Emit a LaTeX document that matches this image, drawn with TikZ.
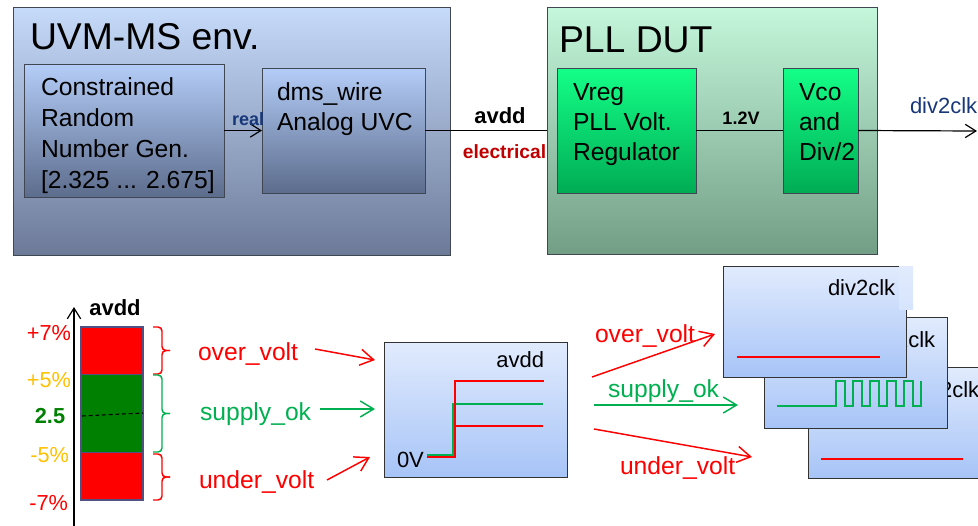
\documentclass[tikz,border=0pt]{standalone}
\usepackage{fontspec}
\setmainfont{Liberation Sans}
\usetikzlibrary{arrows.meta}

\definecolor{envtop}{RGB}{198,218,250}
\definecolor{envbot}{RGB}{108,122,152}
\definecolor{gentop}{RGB}{180,205,248}
\definecolor{genbot}{RGB}{92,108,140}
\definecolor{plltop}{RGB}{196,247,219}
\definecolor{pllbot}{RGB}{114,158,133}
\definecolor{grntop}{RGB}{20,255,136}
\definecolor{grnbot}{RGB}{0,172,84}
\definecolor{wavtop}{RGB}{225,235,253}
\definecolor{wavbot}{RGB}{167,196,247}
\definecolor{boxedge}{RGB}{64,70,82}
\definecolor{navy}{RGB}{23,55,120}
\definecolor{darkred}{RGB}{192,0,0}
\definecolor{alarm}{RGB}{255,0,0}
\definecolor{okgreen}{RGB}{0,176,80}
\definecolor{amber}{RGB}{255,192,0}
\definecolor{bargreen}{RGB}{0,128,0}
\definecolor{baredge}{RGB}{80,80,130}
\definecolor{bgtop}{RGB}{225,235,253}
\definecolor{bgbot}{RGB}{214,228,252}

\newcommand\fs[2]{\fontsize{#1}{#2}\selectfont}

\tikzset{
  boxline/.style={draw=boxedge, line width=0.75pt, inner sep=0pt, outer sep=0pt, anchor=north west},
  envbox/.style={boxline, top color=envtop, bottom color=envbot},
  genbox/.style={boxline, top color=gentop, bottom color=genbot},
  pllbox/.style={boxline, top color=plltop, bottom color=pllbot},
  grnbox/.style={boxline, top color=grntop, bottom color=grnbot},
  wavebox/.style={boxline, draw=black!80, top color=wavtop, bottom color=wavbot},
  lbl/.style={inner sep=0pt, outer sep=0pt},
  title/.style={lbl, anchor=base west, font=\fs{28}{30}},
  body/.style={lbl, anchor=base west, font=\fs{18.5}{22}},
  sig/.style={lbl, font=\fs{18.5}{22}},
  wlbl/.style={lbl, font=\fs{16.5}{18}},
  conn/.style={line width=0.9pt},
  barb/.style={conn, -{Straight Barb[length=8pt,width=10pt]}},
  sigarrow/.style={line width=1.1pt, -{Straight Barb[length=10pt,width=12pt]}},
  trace/.style={line width=1.1pt},
  bracket/.style={line width=1.1pt, rounded corners=3pt},
}

% right-hand curly bracket: top y, bottom y, colour
\newcommand\rangebrace[3]{%
  \pgfmathsetmacro\bmid{(#1+#2)/2}%
  \draw[bracket, #3] (153,#1) -- (162,#1) -- (162,\bmid) -- (170,\bmid);
  \draw[bracket, #3] (170,\bmid) -- (162,\bmid) -- (162,#2) -- (153,#2);
}

\begin{document}
\begin{tikzpicture}[x=0.75pt,y=-0.75pt]
\useasboundingbox (0,0) rectangle (978,525);

% ---------- UVM-MS environment ----------
\node[envbox, minimum width=437*0.75pt, minimum height=248*0.75pt] (env) at (13,7) {};
\node[title] (envtitle) at (30,49) {UVM-MS env.};
\node[genbox, minimum width=200*0.75pt, minimum height=133*0.75pt] (gen) at (24,64) {};
\node[body] (gentext) at (41,95) {\parbox[t]{5cm}{\fs{18.5}{23.25}Constrained\\Random\\Number Gen.\\{[}2.325 ... 2.675{]}}};
\node[genbox, minimum width=163*0.75pt, minimum height=125*0.75pt] (dms) at (262,68) {};
\node[body] (dmstext) at (277,100) {\parbox[t]{5cm}{\fs{18.5}{22.5}dms\_wire\\Analog UVC}};

\draw[barb] (gen.east) -- (dms.west);
\node[lbl, anchor=base west, font=\bfseries\fs{13.5}{15}, text=navy] (reallbl) at (232,125) {real};

% ---------- PLL DUT ----------
\node[pllbox, minimum width=330*0.75pt, minimum height=247*0.75pt] (pll) at (547,7) {};
\node[title] (plltitle) at (559,52) {PLL DUT};
\node[grnbox, minimum width=139*0.75pt, minimum height=125*0.75pt] (vreg) at (557,68) {};
\node[body] (vregtext) at (573,100) {\parbox[t]{5cm}{\fs{18.5}{22.5}Vreg\\PLL Volt.\\Regulator}};
\node[grnbox, minimum width=75*0.75pt, minimum height=125*0.75pt] (vco) at (783,68) {};
\node[body] (vcotext) at (799,100) {\parbox[t]{3cm}{\fs{18.5}{22.5}Vco\\and\\Div/2}};

\draw[conn] (dms.east) -- (pll.west);
\node[lbl, anchor=base, font=\bfseries\fs{16.5}{18}] (avddlbl) at (500,123) {avdd};
\node[lbl, anchor=base, font=\bfseries\fs{14.4}{16}, text=darkred] (eleclbl) at (504.5,158) {electrical};

\draw[conn] (vreg.east) -- (vco.west);
\node[lbl, anchor=base, font=\bfseries\fs{13.5}{15}] (vlbl) at (741,124) {1.2V};

\coordinate (clkout) at (977,131);
\draw[barb] (vco.east) -- (clkout);
\node[lbl, anchor=base west, font=\fs{16.5}{18}, text=navy] (clklbl) at (910,113) {div2clk};

% ---------- supply level bar ----------
\coordinate (axbot) at (74,528);
\coordinate (axtop) at (74,307);
\draw[barb] (axbot) -- (axtop);
\node[lbl, anchor=base, font=\bfseries\fs{16.5}{18}] (axlbl) at (115,315) {avdd};

\fill[alarm] (81,327) rectangle (143,374);
\fill[bargreen] (81,374) rectangle (143,452);
\fill[alarm] (81,452) rectangle (143,500);
\draw[baredge, line width=0.9pt] (81,327) rectangle (143,500);
\draw[baredge, line width=0.6pt] (81,374) -- (143,374) (81,452) -- (143,452);
\draw[black, line width=0.8pt, dash pattern=on 3pt off 2pt] (82,416) -- (143,413);

\node[lbl, anchor=base east, font=\fs{16.3}{18}, text=alarm] (p7) at (71,340) {+7\%};
\node[lbl, anchor=base east, font=\fs{16.3}{18}, text=amber] (p5) at (71,387) {+5\%};
\node[lbl, anchor=base, font=\bfseries\fs{16.3}{18}, text=bargreen] (nom) at (50,423) {2.5};
\node[lbl, anchor=base east, font=\fs{16.3}{18}, text=amber] (m5) at (69,462) {-5\%};
\node[lbl, anchor=base east, font=\fs{16.3}{18}, text=alarm] (m7) at (68,510) {-7\%};

\rangebrace{327}{374}{alarm}
\rangebrace{375}{452}{okgreen}
\rangebrace{454}{500}{alarm}

\node[sig, anchor=base west, text=alarm] (ovL) at (198,360) {over\_volt};
\node[sig, anchor=base west, text=okgreen] (okL) at (200,420) {supply\_ok};
\node[sig, anchor=base west, text=alarm] (uvL) at (199,488) {under\_volt};

% ---------- avdd step response ----------
\node[wavebox, minimum width=183*0.75pt, minimum height=135*0.75pt] (wbox) at (384,342) {};
\node[wlbl, anchor=base east] (wtitle) at (544,367) {avdd};
\node[wlbl, anchor=base west] (zero) at (397,467) {0V};

\coordinate (ovA) at (315,349); \coordinate (ovB) at (375,360);
\coordinate (okA) at (320,409); \coordinate (okB) at (375,409);
\coordinate (uvA) at (327,480); \coordinate (uvB) at (370,457);
\draw[sigarrow, alarm] (ovA) -- (ovB);
\draw[sigarrow, okgreen] (okA) -- (okB);
\draw[sigarrow, alarm] (uvA) -- (uvB);

\draw[trace, okgreen] (427,455) -- (453,455) -- (453,404) -- (543,404);
\draw[trace, alarm] (427,457) -- (455,457) -- (455,381) -- (544,381);
\draw[trace, alarm] (455,426) -- (543,426);

% ---------- div2clk responses ----------
\coordinate (ovC) at (592,377); \coordinate (ovD) at (715,334);
\coordinate (okC) at (594,405); \coordinate (okD) at (738,405);
\coordinate (uvC) at (594,429); \coordinate (uvD) at (752,457);
\draw[sigarrow, alarm] (ovC) -- (ovD);
\draw[sigarrow, okgreen] (okC) -- (okD);
\draw[sigarrow, alarm] (uvC) -- (uvD);
\node[sig, anchor=base west, text=alarm] (ovR) at (595,342) {over\_volt};
\node[sig, anchor=base west, text=okgreen] (okR) at (608,397) {supply\_ok};
\node[sig, anchor=base west, text=alarm] (uvR) at (620,474) {under\_volt};

% back: under-voltage
\node[wavebox, minimum width=183*0.75pt, minimum height=111*0.75pt] (clkUV) at (808,367) {};
\node[wlbl, anchor=base west] (clkUVt) at (912,397) {div2clk};
\draw[trace, alarm] (821,459) -- (963,459);

% middle: supply ok, clock running
\node[wavebox, minimum width=183*0.75pt, minimum height=111*0.75pt] (clkOK) at (764,317) {};
\node[wlbl, anchor=base west] (clkOKt) at (868,347) {div2clk};
\draw[trace, okgreen] (777,406) -- (836,406) -- (836,381) -- (845,381) -- (845,406)
  -- (853,406) -- (853,381) -- (862,381) -- (862,406)
  -- (870,406) -- (870,381) -- (879,381) -- (879,406)
  -- (887,406) -- (887,381) -- (896,381) -- (896,406)
  -- (904,406) -- (904,381) -- (913,381) -- (913,406)
  -- (921,406) -- (921,381);

% front: over-voltage
\node[wavebox, minimum width=183*0.75pt, minimum height=111*0.75pt] (clkOV) at (723,266) {};
\node[lbl, anchor=north east, minimum width=14*0.75pt, minimum height=43*0.75pt,
      top color=bgtop, bottom color=bgbot] (clkOVbg) at (913,266.5) {};
\node[wlbl, anchor=base west] (clkOVt) at (828,295) {div2clk};
\draw[trace, alarm] (737,357) -- (880,357);

\end{tikzpicture}
\end{document}
